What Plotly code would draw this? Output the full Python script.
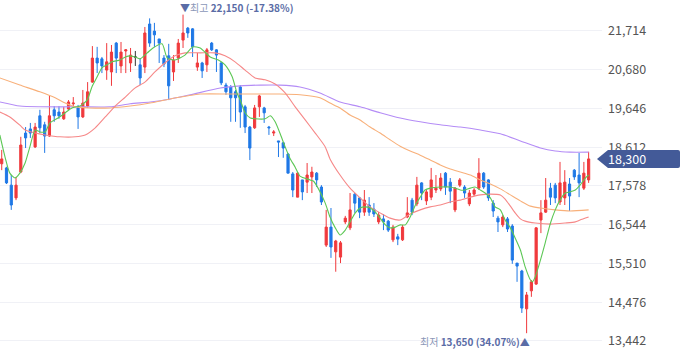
import plotly.graph_objects as go

# ---------------- data ----------------
opens = [18170, 18060, 17600, 17260, 17950, 18990, 19100, 18620, 19450, 19210,
         18910, 19610, 19550, 19370, 19630, 19770, 19660, 19420, 19710, 20350,
         20990, 20970, 20670, 20620, 21390, 20780, 21180, 20860, 21020, 20810,
         20750, 21900, 21710, 21500, 20990, 21050, 20620, 20990, 21470, 21790,
         21770, 20750, 20860, 20810, 21390, 21210, 20860, 20270, 20220, 20090,
         20220, 19690, 19150, 19130, 19690, 19660, 19150, 18990, 18780, 18730,
         18430, 17900, 17280, 17740, 17680, 17820, 17920, 17550, 16000, 16480,
         15820, 15680, 16620, 16460, 17360, 17260, 16880, 17070, 16960, 16620,
         16700, 16640, 16140, 16220, 16140, 16750, 17200, 17100, 17660, 17180,
         17280, 17470, 17500, 17920, 17680, 16940, 17600, 17550, 17100, 17360,
         17520, 17920, 17740, 17120, 16720, 16540, 16700, 16510, 15520, 15310,
         14300, 14780, 14960, 16670, 16880, 17520, 17600, 17150, 17260, 17630,
         18000, 17870, 17520, 17740]
highs = [18540, 18090, 17870, 17820, 18890, 19150, 19260, 19260, 19610, 19290,
         19980, 19710, 19710, 19690, 19870, 19950, 19740, 20140, 20350, 21310,
         21290, 21020, 21390, 21340, 21420, 21420, 21230, 21260, 21180, 20990,
         21820, 22050, 21930, 21500, 21070, 21370, 21070, 21500, 22150, 21820,
         21790, 21130, 20890, 21260, 21420, 21230, 20890, 20330, 20270, 20140,
         20270, 19740, 19180, 19740, 20010, 19690, 19180, 19070, 18780, 18750,
         18460, 17950, 17950, 17740, 18190, 18090, 17950, 17600, 16940, 16990,
         16140, 16110, 16780, 17390, 17390, 17280, 17470, 17280, 17120, 16880,
         16830, 16670, 16540, 16300, 16540, 17280, 17260, 17820, 17680, 17470,
         18060, 17870, 17920, 17950, 17790, 17550, 17790, 17600, 17470, 17520,
         18320, 17950, 17760, 17200, 16780, 16800, 16750, 16560, 15520, 15340,
         14750, 15070, 16480, 17200, 17790, 17660, 17660, 18220, 18000, 17790,
         18030, 18460, 18220, 18490]
lows = [18000, 17630, 16940, 17200, 17920, 18590, 18860, 18590, 18990, 18460,
        18890, 19290, 19370, 19340, 19610, 19660, 19100, 19390, 19660, 20330,
        20590, 20590, 20410, 20250, 20590, 20590, 20590, 20620, 20780, 20270,
        20590, 21290, 21290, 20860, 20750, 19870, 20380, 20860, 21260, 21530,
        21020, 20650, 20460, 20620, 21180, 20620, 20270, 20010, 19290, 19290,
        19130, 18990, 18270, 19100, 19420, 19260, 18940, 18910, 18350, 18330,
        17920, 17280, 17280, 17200, 17390, 17390, 17550, 17070, 15950, 15660,
        15290, 15520, 16560, 16400, 16860, 16720, 16780, 16780, 16750, 16560,
        16400, 16350, 16080, 16000, 16110, 16720, 16800, 17040, 17200, 17070,
        17200, 17390, 17440, 17340, 17120, 16880, 17550, 17260, 17040, 17310,
        17470, 17500, 17180, 16750, 16350, 16480, 16350, 15500, 15020, 14190,
        13650, 14620, 14940, 16320, 16860, 17070, 17120, 17070, 17070, 16910,
        17740, 17280, 17470, 17660]
closes = [18300, 17660, 17070, 17600, 18670, 18860, 18990, 19150, 19130, 18910,
          19450, 19450, 19450, 19550, 19820, 19790, 19420, 19790, 20090, 20990,
          20860, 20780, 20890, 21150, 20990, 21150, 21210, 21070, 21020, 20460,
          21660, 21390, 21610, 21390, 20830, 20250, 20940, 21390, 21660, 21660,
          21290, 20860, 20650, 21210, 21210, 21070, 20330, 20090, 19930, 19930,
          19550, 19150, 18590, 19660, 19980, 19530, 19130, 19020, 18750, 18590,
          17920, 17470, 17920, 17420, 17870, 17950, 17740, 17150, 16480, 15950,
          16110, 16060, 16720, 16940, 17120, 16880, 17200, 16880, 16830, 16800,
          16620, 16400, 16480, 16160, 16480, 16860, 16880, 17600, 17390, 17420,
          17740, 17520, 17790, 17550, 17440, 17520, 17740, 17390, 17390, 17470,
          17920, 17550, 17260, 16910, 16620, 16750, 16430, 15600, 15440, 14320,
          14670, 15020, 16460, 16860, 17200, 17280, 17260, 17660, 17680, 17310,
          17820, 17660, 17920, 18300]

# moving-average lines, read at candle positions
ma5_x = [-0.4, 0.7, 1.7, 2.8, 3.8, 4.9, 5.9, 7.0, 8.0, 9.1, 10.1, 11.8, 13.3, 14.7,
         16.4, 17.9, 18.9, 20.0, 21.0, 22.1, 23.1, 24.8, 25.9, 26.9, 27.9, 29.0,
         30.5, 31.7, 33.6, 34.7, 36.3, 38.4, 40.1, 41.6, 43.7, 45.4, 46.8, 48.3,
         49.3, 50.0, 51.0, 52.1, 53.1, 55.2, 56.3, 57.3, 58.3, 59.4, 60.4, 61.5,
         62.5, 64.6, 65.3, 66.3, 67.8, 68.8, 69.9, 70.9, 72.0, 73.0, 74.1, 75.1,
         76.2, 77.2, 78.3, 79.3, 80.4, 81.4, 82.5, 83.5, 84.6, 85.6, 86.7, 87.7,
         88.7, 89.8, 91.9, 94.0, 95.0, 96.1, 97.1, 98.2, 99.2, 100.3, 101.3, 102.4,
         103.4, 104.5, 105.5, 106.6, 107.6, 108.7, 109.7, 110.8, 111.2, 111.8,
         112.9, 113.9, 115.0, 116.0, 117.0, 118.1, 119.1, 120.2, 121.2, 122.3, 123.0]
ma5_v = [18940, 18350, 17920, 17790, 17920, 18190, 18620, 19070, 19020, 19020, 19260,
         19390, 19530, 19660, 19710, 19870, 20220, 20490, 20730, 20810, 20890, 20940,
         21020, 21050, 21020, 20970, 21130, 21260, 21370, 20990, 20940, 21070, 21290,
         21260, 21020, 20940, 20810, 20490, 20060, 19870, 19530, 19390, 19370, 19370,
         19450, 19290, 18990, 18620, 18320, 18080, 17840, 17740, 17710, 17520, 17120,
         16750, 16460, 16270, 16400, 16620, 16860, 16990, 17020, 16990, 16880, 16720,
         16540, 16460, 16480, 16540, 16540, 16750, 17070, 17280, 17470, 17520, 17550,
         17550, 17520, 17470, 17470, 17520, 17550, 17470, 17390, 17260, 17020, 16940,
         16670, 16460, 16190, 15870, 15420, 15070, 15020, 15150, 15600, 16060, 16590,
         16940, 17200, 17390, 17420, 17470, 17600, 17790, 17870]

ma20_x = [-0.4, 1.7, 3.8, 4.9, 7.0, 9.1, 12.2, 15.4, 17.5, 19.6, 21.7, 23.8, 25.9,
          27.9, 30.0, 32.1, 34.2, 36.3, 38.4, 41.6, 44.7, 46.8, 48.9, 51.0, 53.1,
          55.2, 57.3, 59.4, 61.5, 63.6, 65.7, 67.8, 68.8, 70.9, 73.0, 75.1, 77.2,
          79.3, 81.4, 83.5, 85.6, 87.7, 89.8, 91.9, 94.0, 96.1, 98.2, 100.3, 102.4,
          104.5, 105.5, 106.6, 107.6, 108.7, 109.7, 111.8, 115.0, 118.1, 120.2,
          121.2, 123.0]
ma20_v = [19550, 19420, 19200, 19070, 18990, 18940, 18890, 18890, 18940, 19130, 19420,
          19710, 19950, 20190, 20350, 20620, 20860, 21050, 21130, 21130, 21130, 21050,
          20890, 20670, 20460, 20410, 20300, 20060, 19690, 19340, 18990, 18620, 18300,
          17870, 17520, 17260, 17020, 16860, 16720, 16670, 16830, 16940, 17020, 17070,
          17150, 17200, 17280, 17340, 17360, 17340, 17230, 17040, 16860, 16700, 16640,
          16590, 16560, 16590, 16620, 16670, 16750]

ma60_x = [-0.4, 3.8, 8.0, 11.2, 13.3, 15.4, 18.5, 22.7, 26.9, 31.1, 35.3, 41.6, 47.9,
          54.2, 58.3, 62.5, 66.7, 68.8, 70.9, 73.0, 75.1, 77.2, 79.3, 81.4, 83.5,
          85.6, 87.7, 89.8, 91.9, 94.0, 96.1, 98.2, 100.3, 102.4, 104.5, 106.6,
          108.7, 110.8, 112.9, 116.0, 119.1, 123.0]
ma60_v = [20460, 20270, 20090, 19930, 19790, 19690, 19660, 19660, 19710, 19790, 19900,
          20030, 20030, 20030, 20030, 20010, 19930, 19790, 19660, 19470, 19340, 19150,
          18990, 18810, 18640, 18510, 18400, 18270, 18140, 18030, 17950, 17870, 17740,
          17630, 17500, 17340, 17180, 17040, 16990, 16940, 16910, 16940]

ma120_x = [-0.4, 3.8, 8.0, 16.4, 22.7, 26.9, 31.1, 35.3, 39.5, 45.8, 50.0, 54.2,
           58.3, 62.5, 66.7, 70.9, 75.1, 79.3, 83.5, 87.7, 91.9, 96.1, 100.3,
           104.5, 108.7, 112.9, 116.0, 119.1, 123.0]
ma120_v = [19820, 19710, 19690, 19690, 19690, 19770, 19820, 19900, 20010, 20190,
           20250, 20270, 20270, 20220, 20060, 19820, 19690, 19530, 19390, 19290,
           19210, 19150, 19070, 18970, 18780, 18590, 18510, 18480, 18480]

tick_vals = [13442, 14476, 15510, 16544, 17578, 18612, 19646, 20680, 21714]

# ---------------- styling ----------------
RED = "#f0393c"
BLUE = "#1f78e6"
FONT = "Noto Sans CJK KR"

n = len(closes)
xs = list(range(n))
flat = [o == c for o, c in zip(opens, closes)]


def pick(vals, keep):
    return [v if k else None for v, k in zip(vals, keep)]


fig = go.Figure()

fig.add_trace(go.Candlestick(
    x=xs,
    open=pick(opens, [not f for f in flat]),
    high=pick(highs, [not f for f in flat]),
    low=pick(lows, [not f for f in flat]),
    close=pick(closes, [not f for f in flat]),
    increasing=dict(line=dict(color=RED, width=1), fillcolor=RED),
    decreasing=dict(line=dict(color=BLUE, width=1), fillcolor=BLUE),
    whiskerwidth=0, showlegend=False, hoverinfo="skip",
))
fig.add_trace(go.Candlestick(
    x=xs,
    open=pick(opens, flat), high=pick(highs, flat),
    low=pick(lows, flat), close=pick(closes, flat),
    increasing=dict(line=dict(color="#333333", width=1), fillcolor="#333333"),
    decreasing=dict(line=dict(color="#333333", width=1), fillcolor="#333333"),
    whiskerwidth=0, showlegend=False, hoverinfo="skip",
))

for mx, mv, col in [(ma120_x, ma120_v, "#b48cf6"),
                    (ma60_x, ma60_v, "#f8b07a"),
                    (ma20_x, ma20_v, "#f68888"),
                    (ma5_x, ma5_v, "#5cc755")]:
    fig.add_trace(go.Scatter(x=mx, y=mv, mode="lines",
                             line=dict(color=col, width=1.1, shape="spline", smoothing=0.6),
                             showlegend=False, hoverinfo="skip"))

# high / low annotations
hi = max(highs)
hi_i = highs.index(hi)
lo = min(lows)
lo_i = lows.index(lo)
last = closes[-1]
hi_pct = (last - hi) / hi * 100
lo_pct = (last - lo) / lo * 100

fig.add_annotation(
    x=hi_i, y=hi, xref="x", yref="y", xanchor="left", yanchor="bottom",
    xshift=-5, yshift=-2, showarrow=False,
    text=f"▼<span style='color:#8c97b8'>최고</span> <b>{hi:,} ({hi_pct:.2f}%)</b>",
    font=dict(family=FONT, size=10, color="#5a6ca6"),
)
fig.add_annotation(
    x=lo_i, y=lo, xref="x", yref="y", xanchor="right", yanchor="top",
    xshift=5, yshift=1, showarrow=False,
    text=f"<span style='color:#8c97b8'>최저</span> <b>{lo:,} ({lo_pct:.2f}%)</b>▲",
    font=dict(family=FONT, size=10, color="#5a6ca6"),
)

# current price tag
TAG = "#435a98"
fig.add_shape(
    type="path", xref="paper", yref="y",
    xsizemode="pixel", ysizemode="pixel", xanchor=1, yanchor=last,
    path="M -5 0 L 6 9 L 76 9 Q 78 9 78 7 L 78 -7 Q 78 -9 76 -9 L 6 -9 Z",
    fillcolor=TAG, line=dict(width=0), layer="above",
)
fig.add_annotation(
    x=1, y=last, xref="paper", yref="y", xanchor="left", yanchor="middle",
    xshift=4, showarrow=False, text=f"{last:,}",
    font=dict(family=FONT, size=12.5, color="white"),
)

fig.update_layout(
    width=680, height=358,
    margin=dict(l=0, r=78, t=0, b=0),
    paper_bgcolor="white", plot_bgcolor="white",
    xaxis=dict(range=[-0.36, 125.8], visible=False, showgrid=False,
               rangeslider=dict(visible=False), fixedrange=True),
    yaxis=dict(range=[12988, 22540], side="right",
               tickvals=tick_vals, ticktext=[f"{v:,}" for v in tick_vals],
               showgrid=True, gridcolor="#f0f1f6", gridwidth=1,
               zeroline=False, showline=False, ticks="",
               tickfont=dict(family=FONT, size=12.5, color="#555555"),
               ticklabelstandoff=5, fixedrange=True),
    boxgap=0.35,
    font=dict(family=FONT),
)

fig.write_html("out.html", config={"displayModeBar": False},
               post_script="document.body.style.margin='0';document.body.style.overflow='hidden';")
